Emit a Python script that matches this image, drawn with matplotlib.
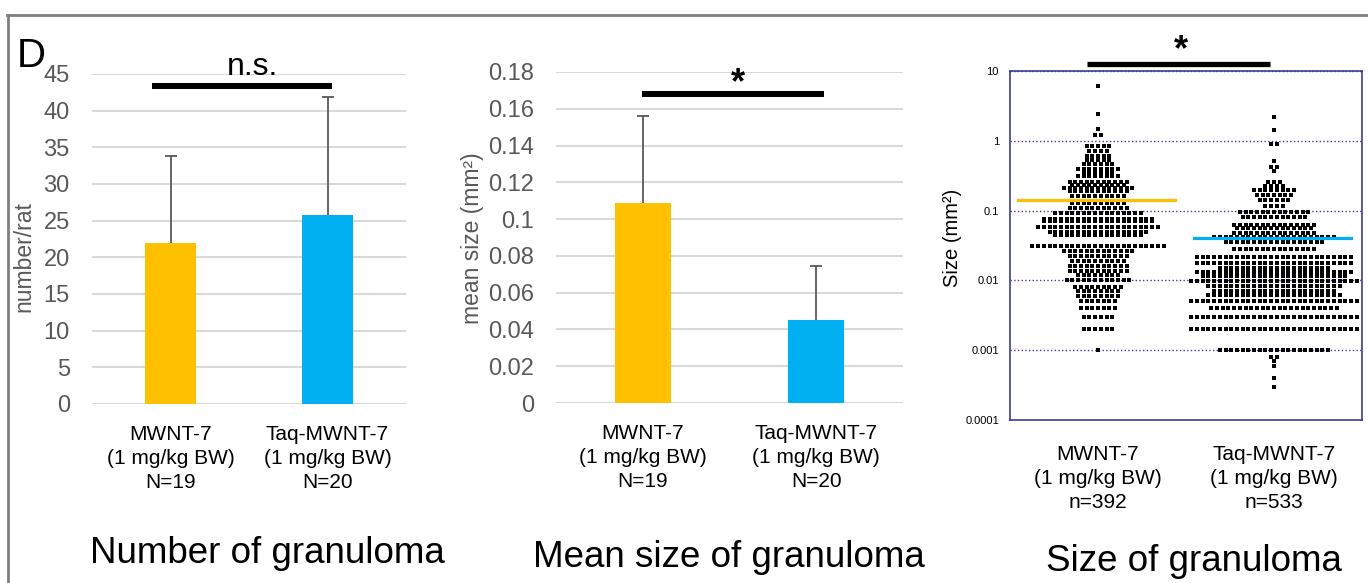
import numpy as np
import matplotlib
matplotlib.use('Agg')
import matplotlib.pyplot as plt
from matplotlib.lines import Line2D
from matplotlib import font_manager

plt.rcParams['font.family'] = ['Liberation Sans', 'DejaVu Sans']
_names = {f.name for f in font_manager.fontManager.ttflist}
NARROW = ['Liberation Sans Narrow', 'Liberation Sans'] if 'Liberation Sans Narrow' in _names else ['Liberation Sans']

ORANGE = '#FFC000'; BLUE = '#00B0F0'; GREY = '#595959'; GRID = '#D9D9D9'
NAVY = '#3C3C9C'; FRAME = '#7F7F7F'
W, H = 1368, 583

# ---- data ----
labels_N = ['MWNT-7\n(1 mg/kg BW)\nN=19', 'Taq-MWNT-7\n(1 mg/kg BW)\nN=20']
labels_n = ['MWNT-7\n(1 mg/kg BW)\nn=392', 'Taq-MWNT-7\n(1 mg/kg BW)\nn=533']

count_mean = [22.0, 25.8]
count_sd = [11.8, 16.0]
size_mean = [0.109, 0.045]
size_sd = [0.047, 0.0295]

# dot plot: size level (mm2) and number of granulomas at that level
mwnt_levels = [6.1, 2.4, 1.5, 1.2, 0.85, 0.72, 0.61, 0.53, 0.47, 0.40, 0.35, 0.31,
               0.26, 0.235, 0.21, 0.19, 0.164, 0.13, 0.11, 0.091, 0.077, 0.070,
               0.059, 0.050, 0.044, 0.031, 0.026, 0.022, 0.019, 0.016, 0.0137,
               0.012, 0.010, 0.008, 0.007, 0.006, 0.005, 0.004, 0.003, 0.002, 0.001]
mwnt_counts = [1, 1, 1, 2, 5, 4, 5, 5, 6, 8, 6, 8,
               11, 10, 13, 11, 10, 10, 11, 16, 20, 20,
               22, 18, 16, 24, 13, 11, 10, 11, 11,
               8, 12, 9, 8, 8, 7, 7, 6, 6, 1]
taq_levels = [2.2, 1.43, 0.9, 0.52, 0.42, 0.37, 0.26, 0.225, 0.195, 0.165, 0.14, 0.115,
              0.097, 0.08, 0.063, 0.057, 0.048, 0.042, 0.035, 0.028, 0.0215, 0.018,
              0.0153, 0.0134, 0.0114, 0.0097, 0.0083, 0.007, 0.0061, 0.0051, 0.004,
              0.003, 0.002, 0.001, 0.0008, 0.0007, 0.0006, 0.0004, 0.0003]
taq_counts = [1, 1, 2, 1, 2, 1, 3, 4, 8, 7, 6, 4,
              13, 12, 15, 14, 15, 22, 18, 15, 28, 28,
              20, 28, 26, 30, 24, 22, 24, 30, 23,
              30, 30, 20, 2, 1, 1, 1, 1]
group_mean = [0.144, 0.040]


def px_axes(fig, left, top, right, bottom):
    return fig.add_axes([left / W, 1 - bottom / H, (right - left) / W, (bottom - top) / H])


def bar_panel(ax, means, sds, ymax, step, fmt):
    x = np.arange(len(means))
    top = np.add(means, sds)
    ax.bar(x, means, width=0.32, color=[ORANGE, BLUE], zorder=3)
    # upper whisker only, as in the source figure
    ax.vlines(x, means, top, color=GREY, lw=1.3, zorder=2)
    ax.plot(x, top, ls='none', marker='_', ms=8, mew=1.3, color=GREY, zorder=2)
    ax.set_xlim(-0.5, 1.5); ax.set_ylim(0, ymax)
    ticks = np.arange(0, ymax + step / 2, step)
    ax.set_yticks(ticks); ax.set_yticklabels([fmt(t) for t in ticks])
    ax.yaxis.grid(True, color=GRID, lw=1.5); ax.set_axisbelow(True)
    for s in ax.spines.values():
        s.set_visible(False)
    ax.tick_params(axis='y', length=0, labelsize=17, labelcolor=GREY, pad=16)
    ax.tick_params(axis='x', length=0, labelsize=15, pad=15)


def cat_labels(ax, labels):
    ax.set_xticks([0, 1])
    ax.set_xticklabels(labels, linespacing=1.35)


def sig(ax, x0, x1, y, lw=4.3):
    ax.plot([x0, x1], [y, y], color='black', lw=lw, solid_capstyle='butt', clip_on=False)


def swarm(ax, xc, levels, counts, step):
    xs, ys = [], []
    for lv, n in zip(levels, counts):
        xs.extend(xc + (np.arange(n) - (n - 1) / 2) * step)
        ys.extend([lv] * n)
    ax.scatter(xs, ys, marker='s', s=6, c='black', linewidths=0, zorder=3)


fig = plt.figure(figsize=(W / 100, H / 100), dpi=100)

# panel 1: number of granuloma
ax1 = px_axes(fig, 92, 74, 406, 404)
bar_panel(ax1, count_mean, count_sd, 45, 5, lambda t: f'{t:.0f}')
cat_labels(ax1, labels_N)
sig(ax1, -0.12, 1.03, 43.4)
ax1.text(0.525, 44.9, 'n.s.', fontsize=23, ha='center', va='baseline')

# panel 2: mean size
ax2 = px_axes(fig, 556, 72, 903, 403)
bar_panel(ax2, size_mean, size_sd, 0.18, 0.02, lambda t: f'{round(t, 2):g}')
cat_labels(ax2, labels_N)
sig(ax2, -0.006, 1.046, 0.168)
ax2.text(0.546, 0.1686, '*', fontsize=26, fontweight='bold', ha='center', va='baseline')

# panel 3: size of each granuloma
ax3 = px_axes(fig, 1010, 71, 1362, 420)
ax3.set_yscale('log')
ax3.set_xlim(-0.5, 1.5); ax3.set_ylim(1e-4, 10)
step = 5.7 / 176
swarm(ax3, 0, mwnt_levels, mwnt_counts, step)
swarm(ax3, 1, taq_levels, taq_counts, step)
for xc, m, c in zip([0, 1], group_mean, [ORANGE, BLUE]):
    ax3.plot([xc - 0.455, xc + 0.44], [m, m], color=c, lw=2.3, zorder=4)
yt = [1e-4, 1e-3, 1e-2, 1e-1, 1, 10]
ax3.set_yticks(yt); ax3.set_yticklabels([f'{v:g}' for v in yt], family=NARROW)
ax3.yaxis.set_minor_locator(matplotlib.ticker.NullLocator())
ax3.yaxis.grid(True, ls=':', color=NAVY, lw=1)
for s in ax3.spines.values():
    s.set_color(NAVY); s.set_linewidth(1.2)
ax3.tick_params(axis='y', length=0, labelsize=8, pad=8)
cat_labels(ax3, labels_n)
ax3.tick_params(axis='x', length=0, labelsize=15, pad=18)
sig(ax3, -0.0625, 0.977, 12.4, lw=3.8)
ax3.text(0.47, 14.4, '*', fontsize=26, fontweight='bold', ha='center', va='baseline')

# y labels
fig.text(24 / W, 1 - 257 / H, 'number/rat', rotation=90, ha='center', va='center',
         fontsize=16.5, color=GREY)
fig.text(472 / W, 1 - 238 / H, 'mean size (mm²)', rotation=90, ha='center', va='center',
         fontsize=16.5, color=GREY)
fig.text(952 / W, 1 - 238 / H, 'Size (mm²)', rotation=90, ha='center', va='center',
         fontsize=14.5)

# panel titles
fig.text(267 / W, 1 - 563 / H, 'Number of granuloma', fontsize=26.5, ha='center', va='baseline')
fig.text(729 / W, 1 - 567 / H, 'Mean size of granuloma', fontsize=26.5, ha='center', va='baseline')
fig.text(1194 / W, 1 - 571 / H, 'Size of granuloma', fontsize=26.5, ha='center', va='baseline')
fig.text(17 / W, 1 - 67 / H, 'D', fontsize=29, va='baseline')

# outer frame
fig.add_artist(Line2D([7 / W, 1], [1 - 15 / H] * 2, color=FRAME, lw=2))
fig.add_artist(Line2D([8 / W] * 2, [0, 1 - 15 / H], color=FRAME, lw=2))

fig.savefig('out.png', dpi=100, facecolor='white')
